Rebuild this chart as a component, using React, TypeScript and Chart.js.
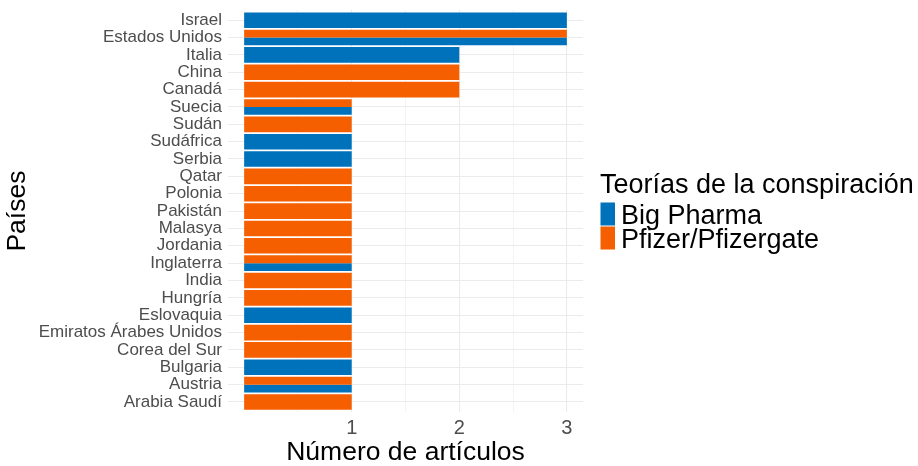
import React, { useEffect, useRef } from "react";
import { Chart, registerables } from "chart.js";
Chart.register(...registerables);

const countries = [
  "Israel", "Estados Unidos", "Italia", "China", "Canadá", "Suecia", "Sudán",
  "Sudáfrica", "Serbia", "Qatar", "Polonia", "Pakistán", "Malasya", "Jordania",
  "Inglaterra", "India", "Hungría", "Eslovaquia", "Emiratos Árabes Unidos",
  "Corea del Sur", "Bulgaria", "Austria", "Arabia Saudí",
];
const bigPharma = [3, 3, 2, 0, 0, 1, 0, 1, 1, 0, 0, 0, 0, 0, 1, 0, 0, 1, 0, 0, 1, 1, 0];
const pfizer = [0, 3, 0, 2, 2, 1, 1, 0, 0, 1, 1, 1, 1, 1, 1, 1, 1, 0, 1, 1, 0, 1, 1];
const xTicks = [0.5, 1, 1.5, 2, 2.5, 3];
const seriesNames = ["Big Pharma", "Pfizer/Pfizergate"];
const legendTitle = "Teorías de la conspiración";
const xTitle = "Número de artículos";
const yTitle = "Países";

const BLUE = "#0072BB";
const ORANGE = "#F55F00";
const FONT = "'Liberation Sans', Arial, Helvetica, sans-serif";
const GRID = "#EBEBEB";
const TICK = "#4D4D4D";

export default function App() {
  const ref = useRef<HTMLCanvasElement>(null);
  useEffect(() => {
    document.body.style.margin = "0";
    const both = (i: number) => bigPharma[i] > 0 && pfizer[i] > 0;
    const pts = (arr: number[], cond: (i: number) => boolean) =>
      arr.map((v, i) => ({ x: v, y: i })).filter((p) => p.x > 0 && cond(p.y));

    const legendPlugin = {
      id: "ggLegend",
      afterDraw(chart: any) {
        const ctx = chart.ctx;
        ctx.save();
        ctx.textAlign = "left";
        ctx.textBaseline = "alphabetic";
        ctx.fillStyle = "#000";
        ctx.font = `27px ${FONT}`;
        ctx.fillText(legendTitle, 600, 193);
        ctx.fillStyle = BLUE;
        ctx.fillRect(600.5, 202.5, 14.5, 23);
        ctx.fillStyle = ORANGE;
        ctx.fillRect(600.5, 226.5, 14.5, 23);
        ctx.fillStyle = "#000";
        ctx.fillText(seriesNames[0], 621, 223.5);
        ctx.fillText(seriesNames[1], 621, 247.5);
        ctx.restore();
      },
    };

    const chart = new Chart(ref.current!, {
      type: "bar",
      data: {
        datasets: [
          { label: seriesNames[0], data: pts(bigPharma, (i) => !both(i)), backgroundColor: BLUE, grouped: false } as any,
          { label: seriesNames[1], data: pts(pfizer, (i) => !both(i)), backgroundColor: ORANGE, grouped: false } as any,
          { label: seriesNames[1], data: pts(pfizer, both), backgroundColor: ORANGE } as any,
          { label: seriesNames[0], data: pts(bigPharma, both), backgroundColor: BLUE } as any,
        ],
      },
      options: {
        indexAxis: "y",
        animation: false,
        responsive: false,
        devicePixelRatio: 1,
        events: [],
        categoryPercentage: 0.9,
        barPercentage: 1,
        borderWidth: 0,
        layout: { padding: { top: 9.8, right: 335, left: 0, bottom: 0 } },
        plugins: { legend: { display: false }, tooltip: { enabled: false } },
        scales: {
          x: {
            type: "linear",
            min: -0.15,
            max: 3.15,
            offset: false,
            afterBuildTicks: (s: any) => { s.ticks = xTicks.map((v) => ({ value: v })); },
            afterFit: (s: any) => { s.height = 53.6; },
            ticks: {
              autoSkip: false,
              maxRotation: 0,
              color: TICK,
              padding: 4,
              font: { family: FONT, size: 20 },
              callback: (v: any) => (Number.isInteger(v) ? String(v) : ""),
            },
            grid: {
              color: GRID,
              offset: false,
              drawTicks: false,
              lineWidth: (c: any) => (c.tick && Number.isInteger(c.tick.value) ? 1.1 : 0.55),
            },
            border: { display: false },
            title: {
              display: true,
              text: xTitle,
              color: "#000",
              font: { family: FONT, size: 26.5, lineHeight: 1 },
              padding: { top: 0.3, bottom: 0.3 },
            },
          },
          y: {
            type: "linear",
            reverse: true,
            offset: false,
            min: -0.6,
            max: countries.length - 1 + 0.6,
            afterBuildTicks: (s: any) => { s.ticks = countries.map((_, i) => ({ value: i })); },
            afterFit: (s: any) => { s.width = 228; s.paddingTop = 0; s.paddingBottom = 0; },
            ticks: {
              autoSkip: false,
              color: TICK,
              padding: 6,
              font: { family: FONT, size: 17, lineHeight: 0.01 },
              callback: (v: any) => countries[v] ?? "",
            },
            grid: { color: GRID, offset: false, drawTicks: false, lineWidth: 1.1 },
            border: { display: false },
            title: {
              display: true,
              text: yTitle,
              color: "#000",
              font: { family: FONT, size: 26.5, lineHeight: 1 },
              padding: { top: 4.8, bottom: 4.8 },
            },
          },
        },
      } as any,
      plugins: [legendPlugin],
    });
    return () => chart.destroy();
  }, []);
  return (
    <div style={{ width: 918, height: 466 }}>
      <canvas ref={ref} width={918} height={466} style={{ display: "block" }} />
    </div>
  );
}
